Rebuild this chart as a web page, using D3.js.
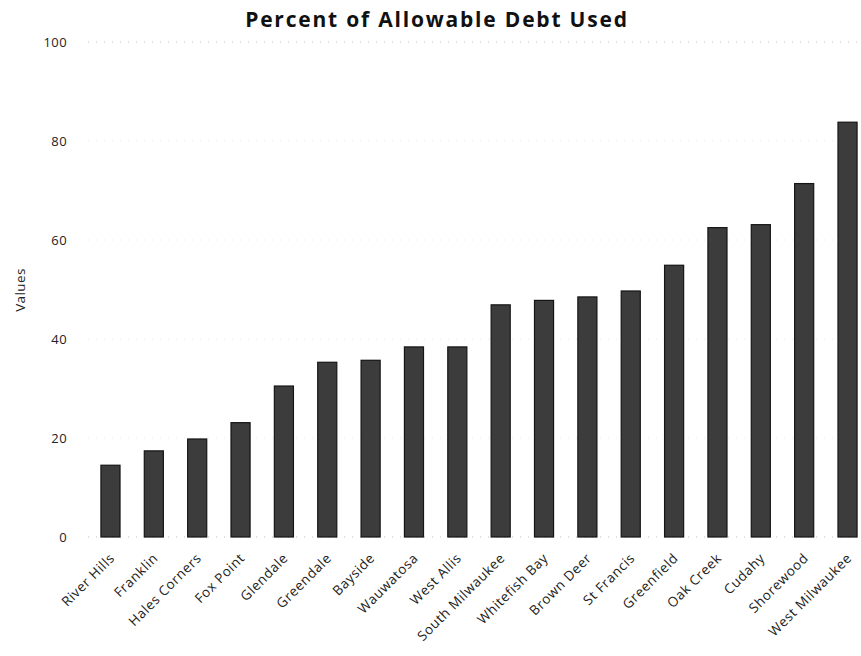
<!DOCTYPE html>
<html>
<head>
<meta charset="utf-8">
<script src="https://cdn.jsdelivr.net/npm/d3@7"></script>
<style>
  html, body { margin: 0; padding: 0; background: #fff; }
  svg { display: block; }
</style>
</head>
<body>
<svg id="chart" width="861" height="656"></svg>
<script>
const categories = ["River Hills", "Franklin", "Hales Corners", "Fox Point", "Glendale", "Greendale", "Bayside", "Wauwatosa", "West Allis", "South Milwaukee", "Whitefish Bay", "Brown Deer", "St Francis", "Greenfield", "Oak Creek", "Cudahy", "Shorewood", "West Milwaukee"];
const values = [14.5, 17.4, 19.8, 23.1, 30.5, 35.3, 35.7, 38.4, 38.4, 46.9, 47.8, 48.5, 49.7, 54.9, 62.5, 63.1, 71.4, 83.8];
const yTicks = [0, 20, 40, 60, 80, 100];
const title = "Percent of Allowable Debt Used";
const yLabel = "Values";

const font = "'Open Sans', 'DejaVu Sans', sans-serif";
const svg = d3.select("#chart");

const x = d3.scaleBand().domain(categories).range([88.8, 869.2]).paddingInner(0.56).paddingOuter(0.28);
const y = d3.scaleLinear().domain([0, 100]).range([537, 42]);

// faint dotted gridlines
svg.append("g").selectAll("line").data(yTicks).join("line")
  .attr("x1", 88).attr("x2", 861)
  .attr("y1", d => y(d)).attr("y2", d => y(d))
  .attr("stroke", "#bbb").attr("stroke-width", 1)
  .attr("stroke-dasharray", "1,7")
  .attr("opacity", d => (d === 0 || d === 100) ? 0.9 : 0.3);

// bars
svg.append("g").selectAll("rect").data(values).join("rect")
  .attr("x", (d, i) => x(categories[i]))
  .attr("y", d => y(d))
  .attr("width", x.bandwidth())
  .attr("height", d => y(0) - y(d))
  .attr("fill", "#3c3c3c")
  .attr("stroke", "#151515")
  .attr("stroke-width", 1.2);

// y axis
const yAxis = d3.axisLeft(y).tickValues(yTicks).tickSize(0).tickPadding(0);
const gy = svg.append("g").attr("transform", "translate(67,0)").call(yAxis);
gy.select(".domain").remove();
gy.selectAll("text").attr("font-family", font).attr("font-size", 13)
  .attr("letter-spacing", 0.4).attr("fill", "#222");

// x axis
const xAxis = d3.axisBottom(x).tickSize(0).tickPadding(0);
const gx = svg.append("g").attr("transform", `translate(0,${y(0)})`).call(xAxis);
gx.select(".domain").remove();
gx.selectAll("text")
  .attr("font-family", font).attr("font-size", 13.5).attr("fill", "#222")
  .attr("letter-spacing", 0.6)
  .attr("text-anchor", "end")
  .attr("dy", null)
  .attr("transform", "translate(5,22) rotate(-45)");

// title
svg.append("text")
  .attr("x", 437).attr("y", 27)
  .attr("text-anchor", "middle")
  .attr("font-family", font).attr("font-weight", "bold").attr("font-size", 21)
  .attr("letter-spacing", 1.8)
  .attr("fill", "#111")
  .text(title);

// y label
svg.append("text")
  .attr("transform", "translate(25,290) rotate(-90)")
  .attr("text-anchor", "middle")
  .attr("font-family", font).attr("font-size", 13.5).attr("letter-spacing", 0.4).attr("fill", "#222")
  .text(yLabel);
</script>
</body>
</html>
